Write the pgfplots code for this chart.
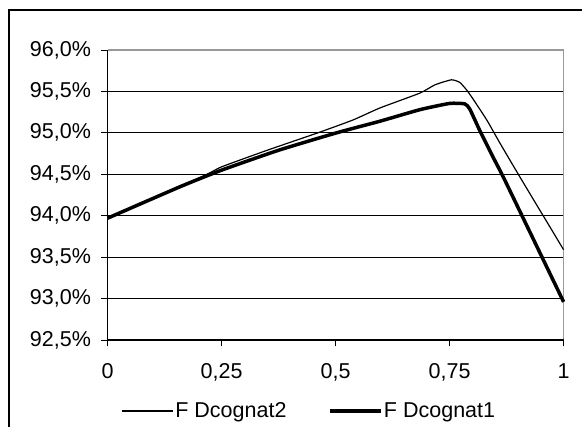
\documentclass[border=0pt]{standalone}
\usepackage{pgfplots}
\pgfplotsset{compat=1.18}
\usepackage{fontspec}
\setmainfont{Liberation Sans}
\newcommand\lab{\fontsize{21.5}{25}\selectfont}
\begin{document}
\begin{tikzpicture}[x=1pt,y=1pt]
\useasboundingbox (0,0) rectangle (582,427);
\draw[black, line width=1.2pt] (9,-5) -- (9,417) -- (590,417);
\begin{axis}[
  at={(107.6pt,87pt)}, anchor=south west,
  scale only axis, width=456pt, height=290pt,
  xmin=0, xmax=1, ymin=92.5, ymax=96.0,
  axis line style={draw=none},
  xtick pos=bottom, ytick pos=left,
  xtick={0,0.25,0.5,0.75,1},
  xticklabels={0,{0,25},{0,5},{0,75},1},
  ytick={92.5,93,93.5,94,94.5,95,95.5,96},
  yticklabels={{92,5\%},{93,0\%},{93,5\%},{94,0\%},{94,5\%},{95,0\%},{95,5\%},{96,0\%}},
  tick align=outside, major tick length=6.5pt,
  tick style={black, line width=0.9pt},
  ymajorgrids, major grid style={black, line width=0.9pt},
  every tick label/.append style={font=\lab, text=black},
  yticklabel style={inner sep=0pt, xshift=-10pt},
  xticklabel style={inner sep=0pt, yshift=-17pt},
  legend columns=2,
  legend style={draw=none, fill=none, at={(0.442,-0.245)}, anchor=center,
     inner sep=0pt, nodes={inner sep=1.5pt, text=black}},
  legend image code/.code={\draw[#1] (0pt,0pt) -- (51pt,0pt);},
  /tikz/every even column/.append style={column sep=40pt},
  clip=false,
]
\draw[gray!80, line width=1.2pt] (rel axis cs:0,1) -- (rel axis cs:1,1) -- (rel axis cs:1,0);
\draw[black, line width=1.2pt] (rel axis cs:0,1) -- (rel axis cs:0,0) -- (rel axis cs:1,0);
\addplot[black, line width=1.2pt, smooth, tension=0.3] coordinates {
(0,93.97) (0.10,94.21) (0.218,94.50) (0.25,94.59) (0.35,94.79) (0.461,95.00)
(0.538,95.155) (0.597,95.30) (0.685,95.48) (0.718,95.58) (0.754,95.64)
(0.772,95.61) (0.787,95.52) (0.80,95.42) (0.831,95.16) (0.86,94.88)
(0.905,94.46) (1.0,93.59)};
\addlegendentry{\lab F Dcognat2}
\addplot[black, line width=3.5pt, smooth, tension=0.3] coordinates {
(0,93.97) (0.159,94.35) (0.25,94.55) (0.375,94.79) (0.502,95.00) (0.597,95.14)
(0.685,95.28) (0.75,95.355) (0.783,95.35) (0.794,95.29) (0.816,95.03)
(0.845,94.71) (0.871,94.43) (1.0,92.96)};
\addlegendentry{\lab F Dcognat1}
\end{axis}
\end{tikzpicture}
\end{document}
